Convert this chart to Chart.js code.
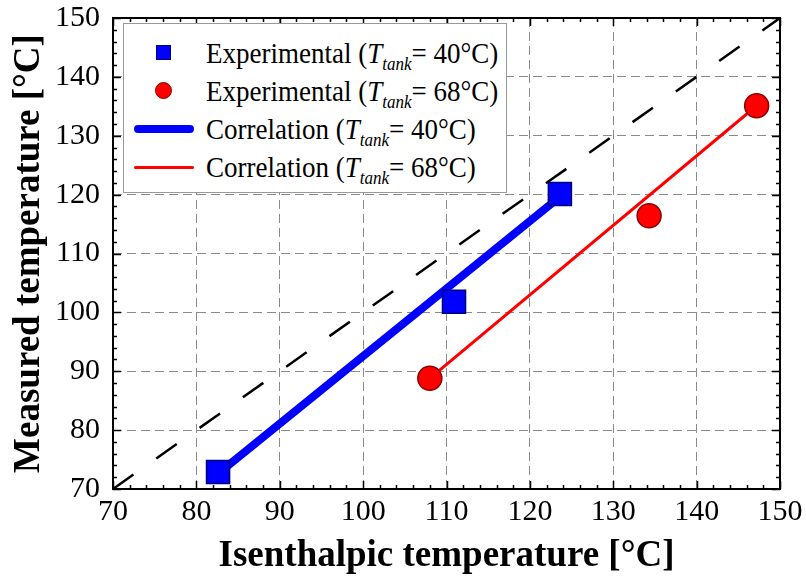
<!DOCTYPE html>
<html>
<head>
<meta charset="utf-8">
<title>Isenthalpic vs measured temperature</title>
<script src="https://cdn.jsdelivr.net/npm/chart.js@4.4.0/dist/chart.umd.min.js"></script>
<style>
  body { margin: 0; background: #fff; }
  #wrap { position: relative; width: 806px; height: 579px; }
  #legend {
    position: absolute; left: 123px; top: 23px; width: 382px; height: 168px;
    border: 1px solid #999; background: #fff;
    font-family: "Liberation Serif", "Times New Roman", serif; font-size: 27px; color: #000;
  }
  .row { position: absolute; left: 0; height: 38px; line-height: 38px; white-space: nowrap; }
  .mark { position: absolute; left: 10px; top: 0; width: 60px; height: 38px; }
  .txt { position: absolute; left: 82px; top: 0; transform: scaleY(1.1); }
  .txt sub { font-size: 17px; font-style: italic; vertical-align: -6px; line-height: 0; }
</style>
</head>
<body>
<div id="wrap">
  <canvas id="myChart" width="806" height="579"></canvas>
  <div id="legend"></div>
</div>
<script>
// data
var expX40 = [82.6, 110.9, 123.6];
var expY40 = [72.9, 101.8, 120.1];
var expX68 = [108.0, 134.3, 147.2];
var expY68 = [88.8, 116.4, 135.1];
var corX40 = [82.6, 123.4];
var corY40 = [72.6, 119.4];
var corX68 = [108.0, 147.2];
var corY68 = [88.8, 135.1];
var diagXY = [70, 150];
var legendTemps = ['40', '68', '40', '68'];
var legendNames = ['Experimental', 'Experimental', 'Correlation', 'Correlation'];

function pts(xs, ys) {
    return xs.map(function (x, i) { return { x: x, y: ys[i] }; });
}

var serif = '"Liberation Serif", "Times New Roman", serif';

// inward ticks on all four sides + frame
var frame = {
    id: 'frame',
    afterDraw: function (chart) {
        var ctx = chart.ctx, a = chart.chartArea;
        var xs = chart.scales.x, ys = chart.scales.y;
        ctx.save();
        ctx.strokeStyle = '#000';
        ctx.lineWidth = 1.5;
        ctx.beginPath();
        for (var v = 70; v <= 150; v += 2) {
            var len = (v % 10 === 0) ? 8 : 4;
            var px = Math.round(xs.getPixelForValue(v)) + 0.5;
            var py = Math.round(ys.getPixelForValue(v)) + 0.5;
            ctx.moveTo(px, a.bottom); ctx.lineTo(px, a.bottom - len);
            ctx.moveTo(px, a.top); ctx.lineTo(px, a.top + len);
            ctx.moveTo(a.left, py); ctx.lineTo(a.left + len, py);
            ctx.moveTo(a.right, py); ctx.lineTo(a.right - len, py);
        }
        ctx.stroke();
        ctx.lineWidth = 2;
        ctx.strokeRect(a.left, a.top, a.right - a.left, a.bottom - a.top);
        ctx.restore();
    }
};

var ctx = document.getElementById('myChart').getContext('2d');
var chart = new Chart(ctx, {
    type: 'scatter',
    data: {
        datasets: [{
            label: 'Experimental (Ttank= 40°C)',
            data: pts(expX40, expY40),
            pointStyle: 'rect',
            pointRadius: 16.3,
            backgroundColor: '#0000ff',
            borderColor: '#00007a',
            borderWidth: 1.5
        }, {
            label: 'Experimental (Ttank= 68°C)',
            data: pts(expX68, expY68),
            pointStyle: 'circle',
            pointRadius: 12,
            backgroundColor: '#ff0000',
            borderColor: '#8b0000',
            borderWidth: 1.5
        }, {
            label: 'Correlation (Ttank= 40°C)',
            data: pts(corX40, corY40),
            showLine: true,
            borderColor: '#0000ff',
            borderWidth: 8,
            pointRadius: 0
        }, {
            label: 'Correlation (Ttank= 68°C)',
            data: pts(corX68, corY68),
            showLine: true,
            borderColor: '#ff0000',
            borderWidth: 3,
            pointRadius: 0
        }, {
            label: 'y = x',
            data: pts(diagXY, diagXY),
            showLine: true,
            borderColor: '#000',
            borderWidth: 2.5,
            borderDash: [25, 28],
            pointRadius: 0
        }]
    },
    options: {
        responsive: false,
        animation: false,
        layout: { padding: { top: 18, right: 26, left: 0, bottom: 0 } },
        plugins: { legend: { display: false }, tooltip: { enabled: false } },
        scales: {
            x: {
                type: 'linear', min: 70, max: 150,
                afterFit: function (s) { s.height = 90; s.paddingLeft = 0; s.paddingRight = 0; },
                ticks: { stepSize: 10, padding: 5, color: '#000', font: { family: serif, size: 30 } },
                grid: { color: '#8a8a8a', lineWidth: 1, drawTicks: false },
                border: { display: false, dash: [9, 5] },
                title: { display: true, text: 'Isenthalpic temperature [°C]', color: '#000',
                    font: { family: serif, size: 37, weight: 'bold' }, padding: { top: 0, bottom: 0 } }
            },
            y: {
                type: 'linear', min: 70, max: 150,
                afterFit: function (s) { s.width = 113; s.paddingTop = 0; s.paddingBottom = 0; },
                ticks: { stepSize: 10, padding: 13, color: '#000', font: { family: serif, size: 30 } },
                grid: { color: '#8a8a8a', lineWidth: 1, drawTicks: false },
                border: { display: false, dash: [9, 5] },
                title: { display: true, text: 'Measured temperature [°C]', color: '#000',
                    font: { family: serif, size: 37, weight: 'bold' }, padding: { top: 7, bottom: 0 } }
            }
        }
    },
    plugins: [frame]
});

// legend with italic subscript, built from the dataset styles
var leg = document.getElementById('legend');
chart.data.datasets.slice(0, 4).forEach(function (ds, i) {
    var row = document.createElement('div');
    row.className = 'row';
    row.style.top = (10 + i * 38) + 'px';
    row.style.width = '100%';
    var mark = document.createElement('div');
    mark.className = 'mark';
    if (ds.showLine) {
        mark.innerHTML = '<div style="position:absolute;left:0;width:60px;top:' + (19 - ds.borderWidth / 2) +
            'px;height:' + ds.borderWidth + 'px;border-radius:' + ds.borderWidth / 2 + 'px;background:' + ds.borderColor + '"></div>';
    } else if (ds.pointStyle === 'rect') {
        mark.innerHTML = '<div style="position:absolute;left:22px;top:11px;width:15px;height:15px;box-sizing:border-box;border:1px solid ' +
            ds.borderColor + ';background:' + ds.backgroundColor + '"></div>';
    } else {
        mark.innerHTML = '<div style="position:absolute;left:21px;top:10px;width:17px;height:17px;box-sizing:border-box;border-radius:50%;border:1px solid ' +
            ds.borderColor + ';background:' + ds.backgroundColor + '"></div>';
    }
    var txt = document.createElement('div');
    txt.className = 'txt';
    txt.innerHTML = legendNames[i] + ' (<i>T</i><sub>tank</sub>= ' + legendTemps[i] + '°C)';
    row.appendChild(mark);
    row.appendChild(txt);
    leg.appendChild(row);
});
</script>
</body>
</html>
